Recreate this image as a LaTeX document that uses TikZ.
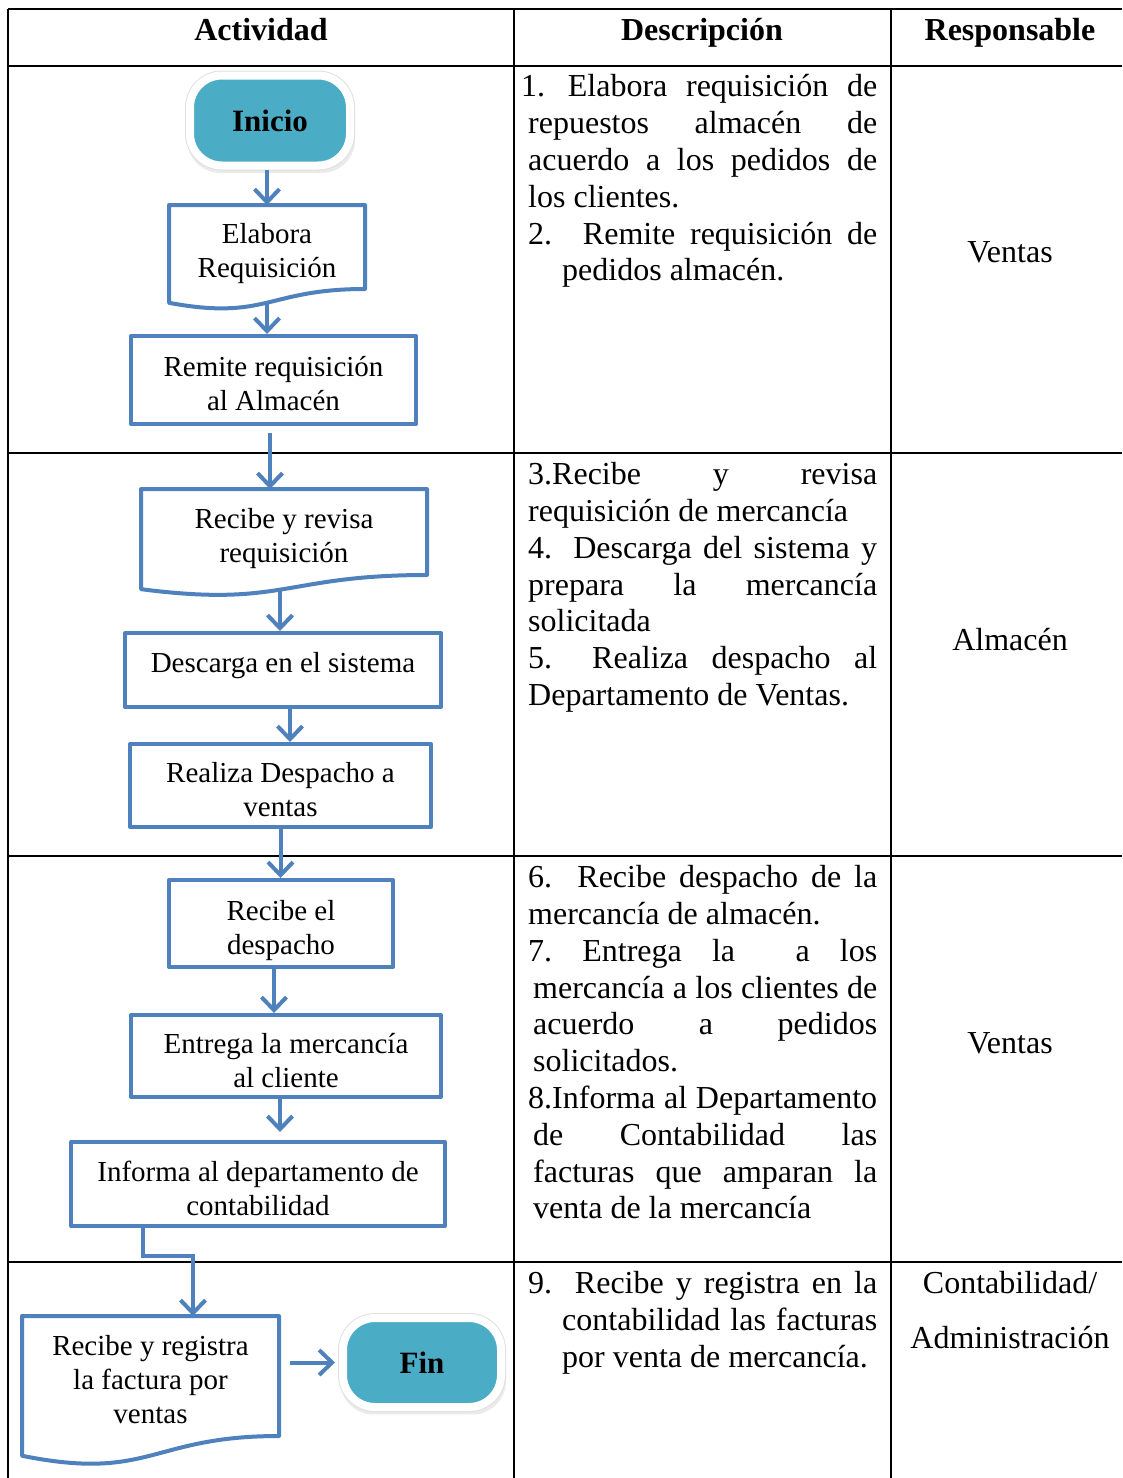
\documentclass[tikz,border=0pt]{standalone}
\usepackage{fontspec}
\setmainfont{Liberation Serif}
\usetikzlibrary{arrows.meta,calc,shadows}
\definecolor{flowblue}{HTML}{4F81BD}
\definecolor{termteal}{HTML}{4BACC6}
\tikzset{
  grid/.style={line width=2pt, draw=black},
  flowline/.style={draw=flowblue, line width=4pt, line join=round},
  box/.style={rectangle, draw=flowblue, line width=4pt, line join=round, inner sep=0pt},
  docbox/.style={rectangle, draw=none, outer sep=0pt, inner sep=0pt},
  boxtext/.style={inner sep=0pt, align=center, font=\fontsize{29pt}{34pt}\selectfont},
  term/.style={rectangle, rounded corners=32pt, fill=termteal, draw=white, line width=8pt, minimum width=160pt, minimum height=90pt, inner sep=0pt, font=\bfseries\fontsize{31pt}{36pt}\selectfont,
    drop shadow={shadow xshift=1pt, shadow yshift=-5pt, opacity=0.16, shadow scale=1.05},
    preaction={draw=black!12, line width=10pt}},
  arr/.style={draw=flowblue, line width=4pt, -{Straight Barb[length=13pt,width=25pt]}},
  desc/.style={anchor=base west, inner sep=0pt, font=\fontsize{32pt}{37pt}\selectfont},
  resp/.style={anchor=base, inner sep=0pt, font=\fontsize{32pt}{37pt}\selectfont},
  head/.style={anchor=base, inner sep=0pt, font=\bfseries\fontsize{32pt}{37pt}\selectfont},
}
\newcommand\docwave[1]{\draw[flowline] (#1.north west) -- (#1.north east) -- (#1.south east) .. controls (#1.south) and ($(#1.north)!1.380!(#1.south)$) .. ($(#1.north west)!1.1646!(#1.south west)$) -- cycle;}
\newcommand\dline[4]{\node[desc] (#1) at (#2,#3) {#4};}
\newcommand\jl[2]{\makebox[#1pt][s]{#2}}
\begin{document}
\begin{tikzpicture}[x=1pt,y=-1pt]
\fill[white] (0,0) rectangle (1122,1478);
\useasboundingbox (0,0) rectangle (1122,1478);
% table grid
\draw[grid] (8,9) -- (1122,9);
\draw[grid] (8,66) -- (1122,66);
\draw[grid] (8,453) -- (1122,453);
\draw[grid] (8,856) -- (1122,856);
\draw[grid] (8,1262) -- (1122,1262);
\draw[grid] (8,9) -- (8,1478);
\draw[grid] (514,9) -- (514,1478);
\draw[grid] (891,9) -- (891,1478);
% headers
\node[head] (h1) at (261,40) {Actividad};
\node[head] (h2) at (702,40) {Descripción};
\node[head] (h3) at (1010,40) {Responsable};
% flow shapes
\node[term] (ini) at (270,120.5) {Inicio};
\node[docbox, minimum width=196pt, minimum height=84pt] (eab) at (267,247) {};
\docwave{eab}
\node[boxtext] (eabt) at ($(eab)+(0,7)$) {Elabora\\Requisición};
\node[box, minimum width=285pt, minimum height=88pt] (rem) at (273.5,380) {};
\node[boxtext] (remt) at ($(rem)+(0,4)$) {Remite requisición\\al Almacén};
\node[docbox, minimum width=286pt, minimum height=86pt] (rrv) at (284,532) {};
\docwave{rrv}
\node[boxtext] (rrvt) at ($(rrv)+(0,7)$) {Recibe y revisa\\requisición};
\node[box, minimum width=316pt, minimum height=74pt] (des) at (283,670) {};
\node[boxtext] (dest) at ($(des)+(0,-4)$) {Descarga en el sistema};
\node[box, minimum width=301pt, minimum height=83pt] (rea) at (280.5,785.5) {};
\node[boxtext] (reat) at ($(rea)+(0,4)$) {Realiza Despacho a\\ventas};
\node[box, minimum width=224pt, minimum height=87pt] (red) at (281,923.5) {};
\node[boxtext] (redt) at ($(red)+(0,7)$) {Recibe el\\despacho};
\node[box, minimum width=310pt, minimum height=82pt] (ent) at (286,1056) {};
\node[boxtext] (entt) at ($(ent)+(0,5)$) {Entrega la mercancía\\al cliente};
\node[box, minimum width=374pt, minimum height=84pt] (inf) at (258,1184) {};
\node[boxtext] (inft) at ($(inf)+(0,4)$) {Informa al departamento de\\contabilidad};
\node[docbox, minimum width=257pt, minimum height=120pt] (rrf) at (150.5,1376) {};
\docwave{rrf}
\node[boxtext] (rrft) at ($(rrf)+(0,4)$) {Recibe y registra\\la factura por\\ventas};
\node[term, minimum width=158pt, minimum height=89pt] (fin) at (422,1362.5) {Fin};
% connectors
\draw[arr] (ini.south -| eab.north) -- (eab.north);
\coordinate (c2) at ($(eab.north)!1.163!(eab.south)$);
\draw[arr] (c2) -- (c2 |- rem.north);
\coordinate (c3) at ([xshift=-3.5pt,yshift=-7pt]rem.south);
\draw[arr] (c3) -- (c3 |- rrv.north);
\coordinate (c4) at ($(rrv.north)!1.163!(rrv.south)+(-4,0)$);
\draw[arr] (c4) -- (c4 |- des.north);
\coordinate (c5) at ([xshift=7pt]des.south);
\draw[arr] (c5) -- (c5 |- rea.north);
\draw[arr] (rea.south) -- (rea.south |- red.north);
\coordinate (c7) at ([xshift=-7pt]red.south);
\draw[arr] (c7) -- (c7 |- ent.north);
\coordinate (c8) at ([xshift=-6pt]ent.south);
\draw[arr] (c8) -- ($(c8 |- inf.north)+(0,-8)$);
\coordinate (e1) at (143,1256);
\coordinate (e2) at (193,1256);
\draw[arr] (inf.south -| e1) -- (e1) -- (e2) -- (e2 |- rrf.north);
\coordinate (c9) at ($(rrf.east |- fin.west)+(11,0)$);
\draw[arr] (c9) -- ($(fin.west)+(-4,0)$);
% descriptions row 1
\dline{d1a}{521}{96}{\jl{356}{1.\hspace*{4pt} Elabora requisición de}}
\dline{d1b}{528}{133}{\jl{349}{repuestos almacén de}}
\dline{d1c}{528}{170}{\jl{349}{acuerdo a los pedidos de}}
\dline{d1d}{528}{207}{los clientes.}
\dline{d1e}{528}{244}{\jl{349}{2. Remite requisición de}}
\dline{d1f}{562}{280}{pedidos almacén.}
% row 2
\dline{d2a}{528}{484}{\jl{349}{3.Recibe y revisa}}
\dline{d2b}{528}{521}{requisición de mercancía}
\dline{d2c}{528}{558}{\jl{349}{4. Descarga del sistema y}}
\dline{d2d}{528}{595}{\jl{349}{prepara la mercancía}}
\dline{d2e}{528}{631}{solicitada}
\dline{d2f}{528}{668}{\jl{349}{5.\hspace*{40pt}Realiza despacho al}}
\dline{d2g}{528}{705}{Departamento de Ventas.}
% row 3
\dline{d3a}{528}{887}{\jl{349}{6. Recibe despacho de la}}
\dline{d3b}{528}{924}{mercancía de almacén.}
\dline{d3c}{528}{961}{\jl{349}{7.\ Entrega\ la\ \ a\ los}}
\dline{d3d}{533}{998}{\jl{344}{mercancía a los clientes de}}
\dline{d3e}{533}{1034}{\jl{344}{acuerdo a pedidos}}
\dline{d3f}{533}{1071}{solicitados.}
\dline{d3g}{528}{1108}{\jl{349}{8.Informa al Departamento}}
\dline{d3h}{533}{1145}{\jl{344}{de Contabilidad las}}
\dline{d3i}{533}{1182}{\jl{344}{facturas que amparan la}}
\dline{d3j}{533}{1218}{venta de la mercancía}
% row 4
\dline{d4a}{528}{1293}{\jl{349}{9. Recibe y registra en la}}
\dline{d4b}{562}{1330}{\jl{315}{contabilidad las facturas}}
\dline{d4c}{562}{1367}{por venta de mercancía.}
% responsables
\node[resp] (r1) at (1010,262) {Ventas};
\node[resp] (r2) at (1010,650) {Almacén};
\node[resp] (r3) at (1010,1053) {Ventas};
\node[resp] (r4a) at (1010,1293) {Contabilidad/};
\node[resp] (r4b) at (1010,1348) {Administración};
\end{tikzpicture}
\end{document}
